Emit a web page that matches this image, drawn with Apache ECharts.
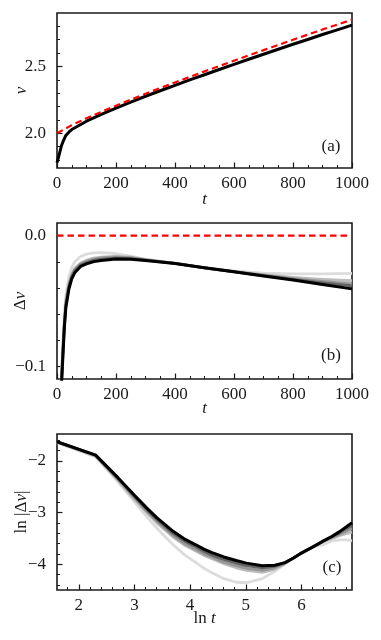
<!DOCTYPE html>
<html>
<head>
<meta charset="utf-8">
<script src="https://cdn.jsdelivr.net/npm/echarts@6/dist/echarts.min.js"></script>
<style>
  html, body { margin: 0; padding: 0; background: #fff; }
  #chart { width: 381px; height: 640px; }
</style>
</head>
<body>
<div id="chart"></div>
<script>
// panel (a): v(t)
const tRed = [0, 50, 100, 150, 200, 250, 300, 350, 400, 450, 500, 550, 600, 650, 700, 750, 800, 850, 900, 950, 1000]
const vRed = [2.0, 2.061, 2.112, 2.160, 2.206, 2.251, 2.296, 2.338, 2.380, 2.422, 2.463, 2.503, 2.543, 2.583, 2.622, 2.661, 2.700, 2.738, 2.776, 2.813, 2.850]
const tBlack = [0, 5, 10, 15, 20, 30, 40, 50, 100, 150, 200, 250, 300, 350, 400, 450, 500, 550, 600, 650, 700, 750, 800, 850, 900, 950, 1000]
const vBlack = [1.78, 1.82, 1.862, 1.906, 1.935, 1.984, 2.008, 2.028, 2.090, 2.141, 2.188, 2.233, 2.277, 2.318, 2.358, 2.399, 2.438, 2.477, 2.515, 2.554, 2.591, 2.629, 2.666, 2.702, 2.739, 2.774, 2.809]

// panel (b): delta v(t), light to dark
const tB = [10, 15, 20, 25, 30, 40, 50, 60, 80, 100, 125, 150, 200, 250, 300, 400, 500, 600, 700, 800, 900, 1000]
const dv1 = [-0.150, -0.104, -0.080, -0.060, -0.045, -0.0316, -0.0242, -0.0201, -0.0159, -0.0141, -0.0131, -0.0129, -0.0136, -0.0155, -0.0180, -0.0210, -0.0243, -0.0268, -0.0285, -0.0292, -0.0292, -0.0287]
const dv2 = [-0.155, -0.110, -0.086, -0.065, -0.050, -0.0365, -0.0290, -0.0249, -0.0208, -0.0187, -0.0171, -0.0163, -0.0157, -0.0164, -0.0181, -0.0211, -0.0245, -0.0274, -0.0298, -0.0318, -0.0333, -0.0344]
const dv3 = [-0.157, -0.112, -0.088, -0.067, -0.052, -0.038, -0.0303, -0.0259, -0.0215, -0.0195, -0.0179, -0.0170, -0.0163, -0.0168, -0.0184, -0.0212, -0.0245, -0.0275, -0.0302, -0.0327, -0.0348, -0.0367]
const dv4 = [-0.158, -0.113, -0.090, -0.068, -0.053, -0.0395, -0.0315, -0.0270, -0.0225, -0.0205, -0.0189, -0.0180, -0.0171, -0.0175, -0.0187, -0.0212, -0.0245, -0.0276, -0.0305, -0.0334, -0.0360, -0.0383]
const dvBlack = [-0.160, -0.115, -0.092, -0.070, -0.055, -0.041, -0.033, -0.0283, -0.0235, -0.0215, -0.0198, -0.0189, -0.0177, -0.0180, -0.0190, -0.0213, -0.0245, -0.0276, -0.0307, -0.0339, -0.0372, -0.0406]
const tZero = [0, 1000]
const dvZero = [0, 0]

// panel (c): ln|delta v| against ln t
const lnT = [1.609, 2.303, 2.708, 2.996, 3.219, 3.401, 3.689, 3.912, 4.094, 4.248, 4.382, 4.605, 4.828, 5.011, 5.298, 5.521, 5.704, 5.858, 5.991, 6.215, 6.397, 6.551, 6.685, 6.802, 6.908]
const ln1 = [-1.65, -1.92, -2.41, -2.79, -3.08, -3.30, -3.62, -3.83, -3.96, -4.08, -4.16, -4.28, -4.35, -4.36, -4.28, -4.14, -4.00, -3.88, -3.79, -3.67, -3.62, -3.55, -3.53, -3.53, -3.55]
const ln2 = [-1.64, -1.91, -2.38, -2.74, -3.00, -3.20, -3.47, -3.64, -3.74, -3.83, -3.89, -3.99, -4.07, -4.12, -4.16, -4.10, -3.99, -3.88, -3.79, -3.66, -3.56, -3.50, -3.45, -3.41, -3.38]
const ln3 = [-1.63, -1.90, -2.36, -2.71, -2.97, -3.17, -3.44, -3.61, -3.71, -3.80, -3.86, -3.96, -4.03, -4.08, -4.12, -4.07, -3.98, -3.88, -3.79, -3.66, -3.55, -3.48, -3.42, -3.36, -3.31]
const ln4 = [-1.63, -1.89, -2.34, -2.68, -2.94, -3.13, -3.40, -3.56, -3.66, -3.75, -3.82, -3.91, -3.98, -4.03, -4.07, -4.04, -3.97, -3.88, -3.79, -3.66, -3.55, -3.47, -3.39, -3.31, -3.25]
const lnBlack = [-1.63, -1.89, -2.33, -2.66, -2.91, -3.10, -3.36, -3.52, -3.62, -3.71, -3.77, -3.86, -3.93, -3.98, -4.03, -4.02, -3.97, -3.88, -3.79, -3.66, -3.55, -3.46, -3.37, -3.28, -3.20]

// ticks
const tMajor = [0, 200, 400, 600, 800, 1000]
const tMinor = [50, 100, 150, 250, 300, 350, 450, 500, 550, 650, 700, 750, 850, 900, 950]
const vMajor = [2.0, 2.5]
const vMinor = [1.8, 1.9, 2.1, 2.2, 2.3, 2.4, 2.6, 2.7, 2.8]
const dvMajor = [-0.1, 0.0]
const dvMinor = [-0.08, -0.06, -0.04, -0.02]
const lnTMajor = [2, 3, 4, 5, 6]
const lnTMinor = [1.8, 2.2, 2.4, 2.6, 2.8, 3.2, 3.4, 3.6, 3.8, 4.2, 4.4, 4.6, 4.8, 5.2, 5.4, 5.6, 5.8, 6.2, 6.4, 6.6, 6.8]
const lnMajor = [-4, -3, -2]
const lnMinor = [-4.4, -4.2, -3.8, -3.6, -3.4, -3.2, -2.8, -2.6, -2.4, -2.2, -1.8, -1.6]

const greys = ['#dcdcdc', '#bcbcbc', '#969696', '#626262']
const font = 'Liberation Serif'
const ink = '#1a1a1a'

function pairs(xs, ys) {
  return xs.map((x, i) => [x, ys[i]])
}

function fmt(digits) {
  return v => (v < 0 ? '\u2212' : '') + Math.abs(v).toFixed(digits)
}

const grids = [
  { left: 57, top: 13, width: 295, height: 155 },
  { left: 57, top: 223, width: 295, height: 156 },
  { left: 57, top: 434, width: 295, height: 156 }
]

const panels = [
  { x: [0, 1000], y: [1.74, 2.90], xMaj: tMajor, xMin: tMinor, yMaj: vMajor, yMin: vMinor, xd: 0, yd: 1,
    xName: '{i|t}', yName: '{i|v}', xGap: 23, yGap: 27 },
  { x: [0, 1000], y: [-0.1094, 0.0097], xMaj: tMajor, xMin: tMinor, yMaj: dvMajor, yMin: dvMinor, xd: 0, yd: 1,
    xName: '{i|t}', yName: 'Δ{i|v}', xGap: 21, yGap: 28 },
  { x: [1.609, 6.908], y: [-4.5, -1.48], xMaj: lnTMajor, xMin: lnTMinor, yMaj: lnMajor, yMin: lnMinor, xd: 0, yd: 0,
    xName: 'ln {i|t}', yName: 'ln |Δ{i|v}|', xGap: 20, yGap: 27 }
]

const nameStyle = {
  fontFamily: font, fontSize: 17, color: ink,
  rich: { i: { fontFamily: font, fontSize: 17, fontStyle: 'italic', color: ink } }
}

const xAxis = []
const yAxis = []
panels.forEach((p, g) => {
  xAxis.push({
    gridIndex: g, type: 'value', min: p.x[0], max: p.x[1], position: 'bottom',
    name: p.xName, nameLocation: 'middle', nameGap: p.xGap, nameMoveOverlap: false, nameTextStyle: nameStyle,
    axisLine: { show: false, onZero: false },
    splitLine: { show: false },
    axisTick: { inside: true, length: 5.5, customValues: p.xMaj, lineStyle: { color: ink, width: 1.2 } },
    axisLabel: { customValues: p.xMaj, margin: 7, fontFamily: font, fontSize: 17, color: ink, formatter: fmt(p.xd) }
  })
  xAxis.push({
    gridIndex: g, type: 'value', min: p.x[0], max: p.x[1], position: 'bottom',
    axisLine: { show: false, onZero: false },
    splitLine: { show: false },
    axisLabel: { show: false },
    axisTick: { inside: true, length: 3, customValues: p.xMin, lineStyle: { color: ink, width: 1 } }
  })
  yAxis.push({
    gridIndex: g, type: 'value', min: p.y[0], max: p.y[1], position: 'left',
    name: p.yName, nameLocation: 'middle', nameGap: p.yGap, nameRotate: 90, nameMoveOverlap: false, nameTextStyle: nameStyle,
    axisLine: { show: false, onZero: false },
    splitLine: { show: false },
    axisTick: { inside: true, length: 5.5, customValues: p.yMaj, lineStyle: { color: ink, width: 1.2 } },
    axisLabel: { customValues: p.yMaj, margin: 11, fontFamily: font, fontSize: 17, color: ink, formatter: fmt(p.yd) }
  })
  yAxis.push({
    gridIndex: g, type: 'value', min: p.y[0], max: p.y[1], position: 'left',
    axisLine: { show: false, onZero: false },
    splitLine: { show: false },
    axisLabel: { show: false },
    axisTick: { inside: true, length: 3, customValues: p.yMin, lineStyle: { color: ink, width: 1 } }
  })
})

function line(g, data, color, width, dashed) {
  return {
    type: 'line', xAxisIndex: 2 * g, yAxisIndex: 2 * g, data,
    showSymbol: false, symbol: 'none', silent: true, clip: true,
    lineStyle: { color, width, type: dashed ? [6.5, 4] : 'solid', cap: 'butt', join: 'round' }
  }
}

const series = [
  line(0, pairs(tBlack, vBlack), '#000', 3),
  line(0, pairs(tRed, vRed), '#ff0000', 2.2, true),

  line(1, pairs(tB, dv1), greys[0], 2.8),
  line(1, pairs(tB, dv2), greys[1], 2.8),
  line(1, pairs(tB, dv3), greys[2], 2.8),
  line(1, pairs(tB, dv4), greys[3], 2.8),
  line(1, pairs(tB, dvBlack), '#000', 3),
  line(1, pairs(tZero, dvZero), '#ff0000', 2.2, true),

  line(2, pairs(lnT, ln1), greys[0], 2.8),
  line(2, pairs(lnT, ln2), greys[1], 2.8),
  line(2, pairs(lnT, ln3), greys[2], 2.8),
  line(2, pairs(lnT, ln4), greys[3], 2.8),
  line(2, pairs(lnT, lnBlack), '#000', 3)
]

const tags = [['(a)', 331, 147], ['(b)', 331, 356], ['(c)', 332, 568]]

const chart = echarts.init(document.getElementById('chart'), null, { renderer: 'canvas' })
chart.setOption({
  animation: false,
  grid: grids.map(g => Object.assign({
    show: true, borderColor: ink, borderWidth: 1.6, backgroundColor: 'transparent',
    containLabel: false, outerBoundsMode: 'none'
  }, g)),
  xAxis,
  yAxis,
  series,
  graphic: tags.map(([text, x, y]) => ({
    type: 'text', x, y, z: 100,
    style: { text, font: '17px "Liberation Serif"', fill: ink, align: 'center', verticalAlign: 'middle' }
  }))
})
</script>
</body>
</html>
